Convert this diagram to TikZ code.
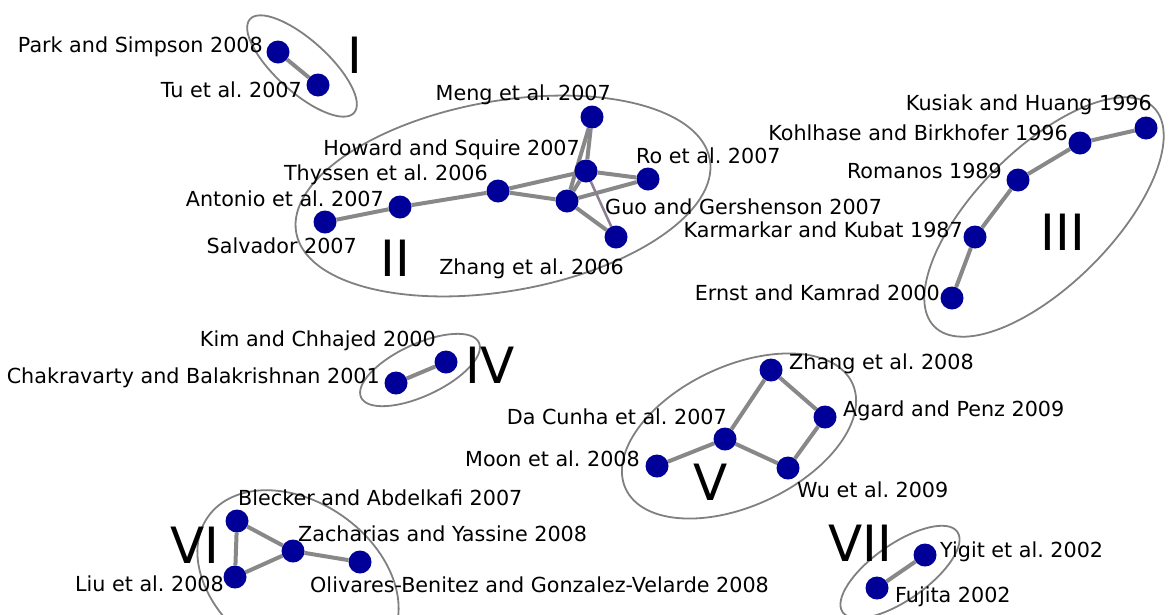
\documentclass[tikz,border=0pt]{standalone}
\usepackage{fontspec}
\setmainfont{DejaVu Sans}
\usetikzlibrary{backgrounds}
\definecolor{nodeblue}{RGB}{0,0,153}
\definecolor{edgegray}{RGB}{136,136,136}
\definecolor{ringgray}{RGB}{128,128,128}
\definecolor{thinedge}{RGB}{140,125,145}
\frenchspacing
\begin{document}
\begin{tikzpicture}[x=1pt,y=-1pt,
  paper/.style={circle, fill=nodeblue, inner sep=0pt, minimum size=23pt},
  link/.style={draw=edgegray, line width=4pt},
  weaklink/.style={draw=thinedge, line width=2.5pt},
  ring/.style={draw=ringgray, line width=1.8pt},
  lbl/.style={font=\fontsize{20.7}{24}\selectfont, inner sep=0pt},
  roman/.style={font=\fontsize{50}{60}\selectfont, inner sep=0pt}]
\useasboundingbox (0,0) rectangle (1169,614);

% ---------- papers ----------
% I
\node[paper] (park) at (278,52) {};
\node[paper] (tu) at (318,85) {};
% II
\node[paper] (meng) at (592,117) {};
\node[paper] (howard) at (586,171) {};
\node[paper] (ro) at (648,179) {};
\node[paper] (guo) at (567,201) {};
\node[paper] (zhangsix) at (616,237) {};
\node[paper] (thyssen) at (498,191) {};
\node[paper] (antonio) at (400,207) {};
\node[paper] (salvador) at (325,222) {};
% III
\node[paper] (kusiak) at (1146,128) {};
\node[paper] (kohlhase) at (1080,143) {};
\node[paper] (romanos) at (1018,180) {};
\node[paper] (karmarkar) at (975,237) {};
\node[paper] (ernst) at (952,298) {};
% IV
\node[paper] (kim) at (446,362) {};
\node[paper] (chakra) at (396,383) {};
% V
\node[paper] (zhangeight) at (771,370) {};
\node[paper] (agard) at (825,417) {};
\node[paper] (dacunha) at (725,439) {};
\node[paper] (moon) at (657,466) {};
\node[paper] (wu) at (788,468) {};
% VI
\node[paper] (blecker) at (237,521) {};
\node[paper] (zacharias) at (293,551) {};
\node[paper] (olivares) at (360,562) {};
\node[paper] (liu) at (235,577) {};
% VII
\node[paper] (yigit) at (925,555) {};
\node[paper] (fujita) at (877,588) {};

% ---------- clusters and links ----------
\begin{scope}[on background layer]
\draw[ring, rotate around={-42:(302,66)}] (302,66) ellipse [x radius=70, y radius=26];
\draw[ring, rotate around={10:(503,196)}] (503,196) ellipse [x radius=210, y radius=95];
\draw[ring, rotate around={45:(1044,217)}] (1044,217) ellipse [x radius=155, y radius=68];
\draw[ring, rotate around={25:(420,370)}] (420,370) ellipse [x radius=65, y radius=26];
\draw[ring, rotate around={25:(739,436)}] (739,436) ellipse [x radius=125, y radius=70];
\draw[ring, rotate around={-35:(298,580)}] (298,580) ellipse [x radius=110, y radius=78];
\draw[ring, rotate around={35:(900,572)}] (900,572) ellipse [x radius=70, y radius=28];

\draw[link] (park) -- (tu);
\draw[link] (salvador) -- (antonio);
\draw[link] (antonio) -- (thyssen);
\draw[link] (thyssen) -- (howard);
\draw[link] (thyssen) -- (guo);
\draw[link] (meng) -- (howard);
\draw[link] (meng) -- (guo);
\draw[link] (howard) -- (guo);
\draw[link] (howard) -- (ro);
\draw[link] (guo) -- (ro);
\draw[link] (guo) -- (zhangsix);
\draw[weaklink] (howard) -- (zhangsix);
\draw[link] (ernst) -- (karmarkar);
\draw[link] (karmarkar) -- (romanos);
\draw[link] (romanos) -- (kohlhase);
\draw[link] (kohlhase) -- (kusiak);
\draw[link] (chakra) -- (kim);
\draw[link] (moon) -- (dacunha);
\draw[link] (dacunha) -- (zhangeight);
\draw[link] (zhangeight) -- (agard);
\draw[link] (agard) -- (wu);
\draw[link] (dacunha) -- (wu);
\draw[link] (blecker) -- (liu);
\draw[link] (blecker) -- (zacharias);
\draw[link] (liu) -- (zacharias);
\draw[link] (zacharias) -- (olivares);
\draw[link] (fujita) -- (yigit);
\end{scope}

% ---------- cluster numerals ----------
\node[roman] (rI) at (355,55) {I};
\node[roman] (rII) at (395,258) {II};
\node[roman] (rIII) at (1063,232) {III};
\node[roman] (rIV) at (490,365) {IV};
\node[roman] (rV) at (711,482) {V};
\node[roman] (rVI) at (195,545) {VI};
\node[roman] (rVII) at (860,543) {VII};

% ---------- labels ----------
\node[lbl, anchor=base east] (tpark) at (263,52) {Park and Simpson 2008};
\node[lbl, anchor=base east] (ttu) at (302,97) {Tu et al. 2007};
\node[lbl, anchor=base east] (tmeng) at (611,100) {Meng et al. 2007};
\node[lbl, anchor=base east] (thoward) at (580,155) {Howard and Squire 2007};
\node[lbl, anchor=base west] (tro) at (636,163) {Ro et al. 2007};
\node[lbl, anchor=base east] (tthyssen) at (488,180) {Thyssen et al. 2006};
\node[lbl, anchor=base east] (tantonio) at (384,206) {Antonio et al. 2007};
\node[lbl, anchor=base west] (tguo) at (605,214) {Guo and Gershenson 2007};
\node[lbl, anchor=base east] (tsalvador) at (357,253) {Salvador 2007};
\node[lbl, anchor=base east] (tzhangsix) at (624,274) {Zhang et al. 2006};
\node[lbl, anchor=base east] (tkusiak) at (1152,110) {Kusiak and Huang 1996};
\node[lbl, anchor=base east] (tkohlhase) at (1068,140) {Kohlhase and Birkhofer 1996};
\node[lbl, anchor=base east] (tromanos) at (1002,178) {Romanos 1989};
\node[lbl, anchor=base east] (tkarmarkar) at (963,237) {Karmarkar and Kubat 1987};
\node[lbl, anchor=base east] (ternst) at (940,300) {Ernst and Kamrad 2000};
\node[lbl, anchor=base east] (tkim) at (436,346) {Kim and Chhajed 2000};
\node[lbl, anchor=base east] (tchakra) at (380,383) {Chakravarty and Balakrishnan 2001};
\node[lbl, anchor=base west] (tzhangeight) at (789,369) {Zhang et al. 2008};
\node[lbl, anchor=base west] (tagard) at (843,416) {Agard and Penz 2009};
\node[lbl, anchor=base east] (tdacunha) at (727,424) {Da Cunha et al. 2007};
\node[lbl, anchor=base east] (tmoon) at (640,466) {Moon et al. 2008};
\node[lbl, anchor=base west] (twu) at (797,497) {Wu et al. 2009};
\node[lbl, anchor=base west] (tblecker) at (238,505) {Blecker and Abdelkafi 2007};
\node[lbl, anchor=base west] (tzacharias) at (298,541) {Zacharias and Yassine 2008};
\node[lbl, anchor=base east] (tliu) at (224,591) {Liu et al. 2008};
\node[lbl, anchor=base west] (tolivares) at (310,592) {Olivares-Benitez and Gonzalez-Velarde 2008};
\node[lbl, anchor=base west] (tyigit) at (940,557) {Yigit et al. 2002};
\node[lbl, anchor=base west] (tfujita) at (895,602) {Fujita 2002};
\end{tikzpicture}
\end{document}
